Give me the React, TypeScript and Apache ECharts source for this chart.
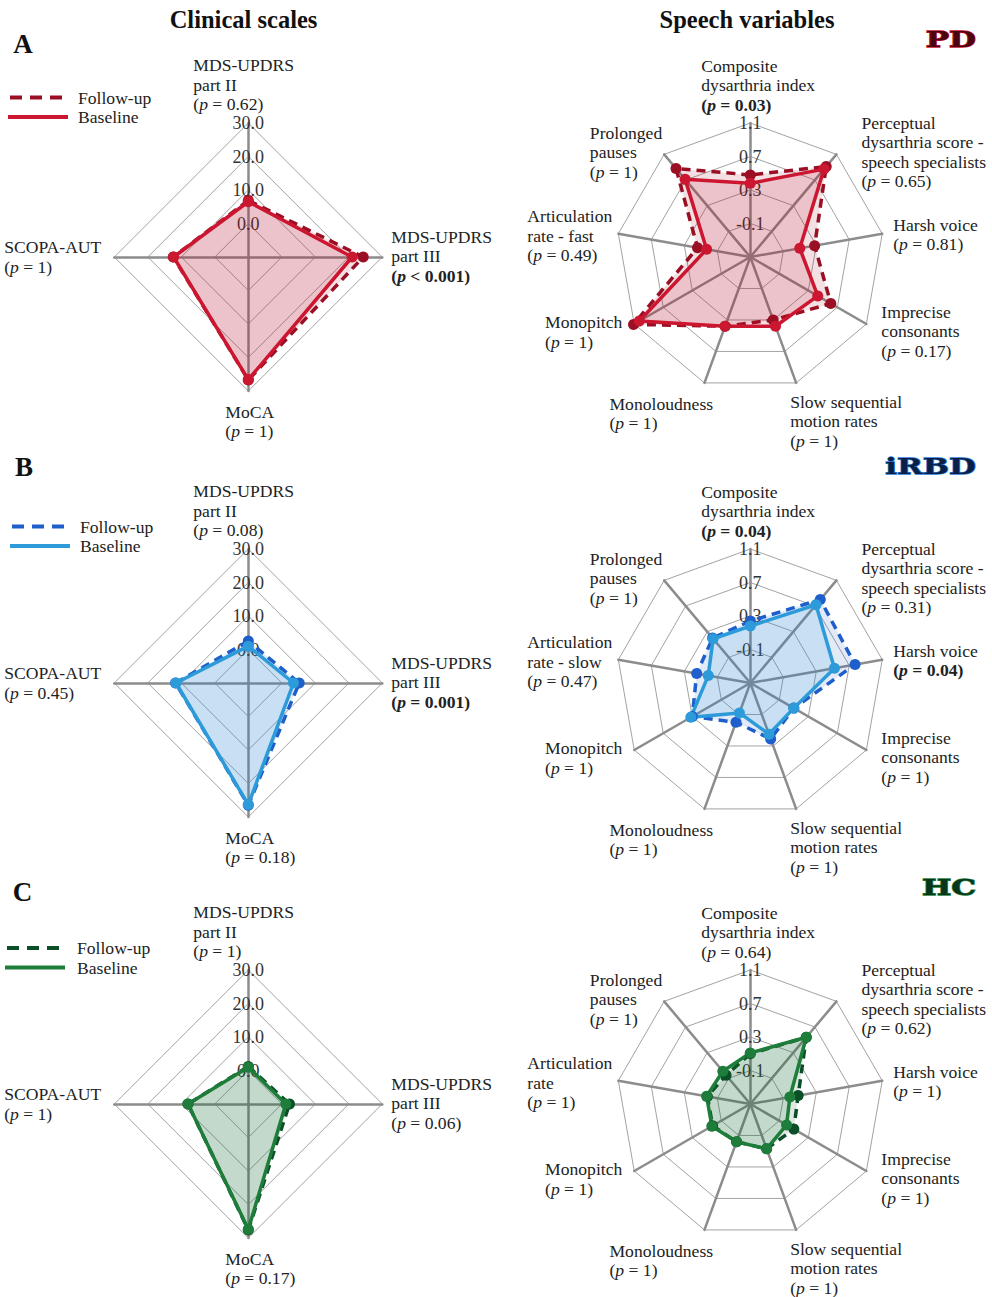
import React, { useEffect, useRef } from "react";
import * as echarts from "echarts";

// ---------- data ----------
const groups = ["PD", "iRBD", "HC"];
const panelLetters = ["A", "B", "C"];
const columnTitles = ["Clinical scales", "Speech variables"];
const legendNames = ["Follow-up", "Baseline"];

// axes listed clockwise from the top
const clinicalAxes = [["MDS-UPDRS", "part II"], ["MDS-UPDRS", "part III"], ["MoCA"], ["SCOPA-AUT"]];
const speechAxes = [
  ["Composite", "dysarthria index"],
  ["Perceptual", "dysarthria score -", "speech specialists"],
  ["Harsh voice"],
  ["Imprecise", "consonants"],
  ["Slow sequential", "motion rates"],
  ["Monoloudness"],
  ["Monopitch"],
  ["Articulation", "rate"],
  ["Prolonged", "pauses"],
];
const articulationSubtitles = ["rate - fast", "rate - slow", "rate"];

const clinicalTicks = [-10, 0, 10, 20, 30];
const speechTicks = [-0.5, -0.1, 0.3, 0.7, 1.1];

const pdClinicalFollowUp = [6.9, 24.3, 26.7, 12.4];
const pdClinicalBaseline = [6.5, 21.0, 26.6, 12.3];
const pdClinicalP = ["= 0.62", "< 0.001", "= 1", "= 1"];
const pdSpeechFollowUp = [0.48, 0.91, 0.28, 0.61, 0.30, 0.38, 1.11, 0.14, 0.88];
const pdSpeechBaseline = [0.38, 0.87, 0.10, 0.43, 0.38, 0.38, 1.03, 0.03, 0.71];
const pdSpeechP = ["= 0.03", "= 0.65", "= 0.81", "= 0.17", "= 1", "= 1", "= 1", "= 0.49", "= 1"];

const irbdClinicalFollowUp = [2.5, 5.2, 26.5, 11.7];
const irbdClinicalBaseline = [1.0, 3.5, 26.3, 11.6];
const irbdClinicalP = ["= 0.08", "= 0.001", "= 0.18", "= 0.45"];
const irbdSpeechFollowUp = [0.24, 0.80, 0.77, 0.10, 0.21, 0.00, 0.30, 0.15, 0.20];
const irbdSpeechBaseline = [0.18, 0.72, 0.52, 0.10, 0.15, -0.12, 0.32, 0.01, 0.19];
const irbdSpeechP = ["= 0.04", "= 0.31", "= 0.04", "= 1", "= 1", "= 1", "= 1", "= 0.47", "= 1"];

const hcClinicalFollowUp = [1.2, 2.3, 27.6, 8.0];
const hcClinicalBaseline = [1.0, 1.2, 27.4, 8.0];
const hcClinicalP = ["= 1", "= 0.06", "= 0.17", "= 1"];
const hcSpeechFollowUp = [0.10, 0.54, 0.08, 0.10, 0.07, -0.02, 0.02, 0.02, -0.05];
const hcSpeechBaseline = [0.11, 0.54, -0.02, 0.00, 0.07, -0.02, 0.03, 0.03, 0.01];
const hcSpeechP = ["= 0.64", "= 0.62", "= 1", "= 1", "= 1", "= 1", "= 1", "= 1", "= 1"];

// ---------- styles / layout ----------
const FONT = '"Liberation Serif", "DejaVu Serif", serif';
const BADGE_FONT = '"DejaVu Serif", "Liberation Serif", serif';
const TEXT = "#222";
const FS = 17.6;
const LH = 19.5;
const R = 134;
const COL_X = [248.3, 750.3];
const ROW_Y = [257, 683, 1104];

const palettes = [
  { fu: "#9b0f24", bl: "#cc1731", badgeFill: "#4a0610", badgeStroke: "#c8102e" },
  { fu: "#1f5fcc", bl: "#2d9bd9", badgeFill: "#0b1f45", badgeStroke: "#2a78dc" },
  { fu: "#0b4f28", bl: "#1e7d3a", badgeFill: "#07361b", badgeStroke: "#1e7d3a" },
];

const clinicalLabelLayout = [
  { align: "left", va: "bottom", dx: -55, dy: -9 },
  { align: "left", va: "middle", dx: 9, dy: -1 },
  { align: "left", va: "top", dx: -23, dy: 11 },
  { align: "right", va: "middle", dx: -13, dy: 0 },
];
const speechLabelLayout = [
  { align: "left", va: "bottom", dx: -49, dy: -8.5 },
  { align: "left", va: "middle", dx: 25, dy: -2.5 },
  { align: "left", va: "middle", dx: 11, dy: 1 },
  { align: "left", va: "middle", dx: 15, dy: 7 },
  { align: "left", va: "top", dx: -6, dy: 9 },
  { align: "left", va: "top", dx: -95, dy: 11 },
  { align: "right", va: "middle", dx: -12, dy: 8 },
  { align: "right", va: "middle", dx: -6, dy: 2 },
  { align: "right", va: "middle", dx: -2, dy: -2 },
];
const legendLayout = [
  { x0: 10, y: 97.5, tx: 78 },
  { x0: 12, y: 526.5, tx: 80 },
  { x0: 7, y: 948, tx: 77 },
];
const letterLayout = [
  { x: 23, y: 44 },
  { x: 24, y: 466.5 },
  { x: 22.5, y: 891.5 },
];
const badgeY = [38.5, 465.5, 887];

const clinicalData = [
  { fu: pdClinicalFollowUp, bl: pdClinicalBaseline, p: pdClinicalP },
  { fu: irbdClinicalFollowUp, bl: irbdClinicalBaseline, p: irbdClinicalP },
  { fu: hcClinicalFollowUp, bl: hcClinicalBaseline, p: hcClinicalP },
];
const speechData = [
  { fu: pdSpeechFollowUp, bl: pdSpeechBaseline, p: pdSpeechP },
  { fu: irbdSpeechFollowUp, bl: irbdSpeechBaseline, p: irbdSpeechP },
  { fu: hcSpeechFollowUp, bl: hcSpeechBaseline, p: hcSpeechP },
];

const tok = { fontFamily: FONT, fontSize: FS, lineHeight: LH, fill: TEXT, align: "left" };
const rich = {
  n: { ...tok },
  i: { ...tok, fontStyle: "italic" },
  b: { ...tok, fontWeight: "bold" },
  bi: { ...tok, fontWeight: "bold", fontStyle: "italic" },
};

function nameText(lines: string[], p: string): string {
  const sig = parseFloat(p.replace(/[^0-9.]/g, "")) < 0.05;
  const head = lines.map((l) => `{n|${l}}`).join("\n");
  const pl = sig ? `{b|(}{bi|p}{b| ${p})}` : `{n|(}{i|p}{n| ${p})}`;
  return head + "\n" + pl;
}

function buildOption() {
  const radar: any[] = [];
  const series: any[] = [];
  const graphic: any[] = [];

  const addPanel = (
    row: number,
    col: number,
    axes: string[][],
    ticks: number[],
    fu: number[],
    bl: number[],
    p: string[],
    layout: any[]
  ) => {
    const n = axes.length;
    const cx = COL_X[col];
    const cy = ROW_Y[row];
    const min = ticks[0];
    const max = ticks[ticks.length - 1];
    // ECharts places indicators counter-clockwise; reorder to get clockwise
    const ord = [0];
    for (let k = n - 1; k >= 1; k--) ord.push(k);
    const radarIndex = radar.length;
    radar.push({
      center: [cx, cy],
      radius: R,
      startAngle: 90,
      shape: "polygon",
      splitNumber: ticks.length - 1,
      axisName: { show: false },
      indicator: ord.map((k, j) => ({
        name: axes[k].join(" "),
        min,
        max,
        axisLabel: {
          show: j === 0,
          color: "#333",
          fontFamily: FONT,
          fontSize: 18,
          margin: 0,
          align: "center",
          verticalAlign: "middle",
          formatter: (v: number) => (Math.abs(v - min) < 1e-9 ? "" : Number(v).toFixed(1)),
        },
      })),
      axisLine: { show: true, lineStyle: { color: "#8c8c8c", width: 2.5 } },
      splitLine: { show: true, lineStyle: { color: "#a3a3a3", width: 1 } },
      splitArea: { show: false },
      axisTick: { show: false },
      axisLabel: { show: false },
    });
    const pal = palettes[row];
    series.push({
      type: "radar",
      radarIndex,
      symbol: "circle",
      symbolSize: 11,
      data: [
        {
          name: legendNames[0],
          value: ord.map((k) => fu[k]),
          lineStyle: { color: pal.fu, width: 3.5, type: [9, 6] },
          itemStyle: { color: pal.fu },
          areaStyle: { color: pal.fu, opacity: 0.13 },
        },
        {
          name: legendNames[1],
          value: ord.map((k) => bl[k]),
          lineStyle: { color: pal.bl, width: 3.5, type: "solid" },
          itemStyle: { color: pal.bl },
          areaStyle: { color: pal.bl, opacity: 0.14 },
        },
      ],
    });
    // axis names
    for (let k = 0; k < n; k++) {
      const th = (2 * Math.PI * k) / n;
      const vx = cx + R * Math.sin(th);
      const vy = cy - R * Math.cos(th);
      const L = layout[k];
      graphic.push({
        type: "text",
        x: vx + L.dx,
        y: vy + L.dy,
        style: {
          text: nameText(axes[k], p[k]),
          rich,
          fill: TEXT,
          fontFamily: FONT,
          fontSize: FS,
          lineHeight: LH,
          align: L.align,
          verticalAlign: L.va,
        },
      });
    }
  };

  groups.forEach((g, row) => {
    const c = clinicalData[row];
    addPanel(row, 0, clinicalAxes, clinicalTicks, c.fu, c.bl, c.p, clinicalLabelLayout);
    const s = speechData[row];
    const sAxes = speechAxes.map((a, k) => (k === 7 ? [a[0], articulationSubtitles[row]] : a));
    addPanel(row, 1, sAxes, speechTicks, s.fu, s.bl, s.p, speechLabelLayout);

    // panel letter
    graphic.push({
      type: "text",
      x: letterLayout[row].x,
      y: letterLayout[row].y,
      style: {
        text: panelLetters[row],
        fontFamily: FONT,
        fontSize: 27,
        fontWeight: "bold",
        fill: "#111",
        align: "center",
        verticalAlign: "middle",
      },
    });
    // group badge
    const pal = palettes[row];
    graphic.push({
      type: "text",
      x: 976,
      y: badgeY[row],
      scaleX: 1.35,
      originX: 0,
      originY: 0,
      style: {
        text: g,
        fontFamily: BADGE_FONT,
        fontSize: 23,
        fontWeight: "bold",
        fill: pal.badgeFill,
        stroke: pal.badgeStroke,
        lineWidth: 1.3,
        align: "right",
        verticalAlign: "middle",
      },
    });
    // legend
    const lg = legendLayout[row];
    graphic.push({
      type: "line",
      shape: { x1: lg.x0, y1: lg.y, x2: lg.x0 + 52, y2: lg.y },
      style: { stroke: pal.fu, lineWidth: 4, lineDash: [12, 8] },
    });
    graphic.push({
      type: "line",
      shape: { x1: lg.x0 - 2, y1: lg.y + 19.5, x2: lg.x0 + 58, y2: lg.y + 19.5 },
      style: { stroke: pal.bl, lineWidth: 4 },
    });
    legendNames.forEach((nm, j) => {
      graphic.push({
        type: "text",
        x: lg.tx,
        y: lg.y + j * 19.5,
        style: { text: nm, fontFamily: FONT, fontSize: FS, fill: TEXT, align: "left", verticalAlign: "middle" },
      });
    });
  });

  // column titles
  [243.5, 747].forEach((x, i) => {
    graphic.push({
      type: "text",
      x,
      y: 19.5,
      style: {
        text: columnTitles[i],
        fontFamily: FONT,
        fontSize: 24.5,
        fontWeight: "bold",
        fill: "#111",
        align: "center",
        verticalAlign: "middle",
      },
    });
  });

  return {
    animation: false,
    backgroundColor: "#ffffff",
    radar,
    series,
    graphic,
  };
}

export default function App() {
  const ref = useRef<HTMLDivElement>(null);
  useEffect(() => {
    document.body.style.margin = "0";
    const chart = echarts.init(ref.current as HTMLDivElement, null, { renderer: "svg" });
    chart.setOption(buildOption() as any);
    return () => chart.dispose();
  }, []);
  return <div ref={ref} style={{ width: 992, height: 1297 }} />;
}
